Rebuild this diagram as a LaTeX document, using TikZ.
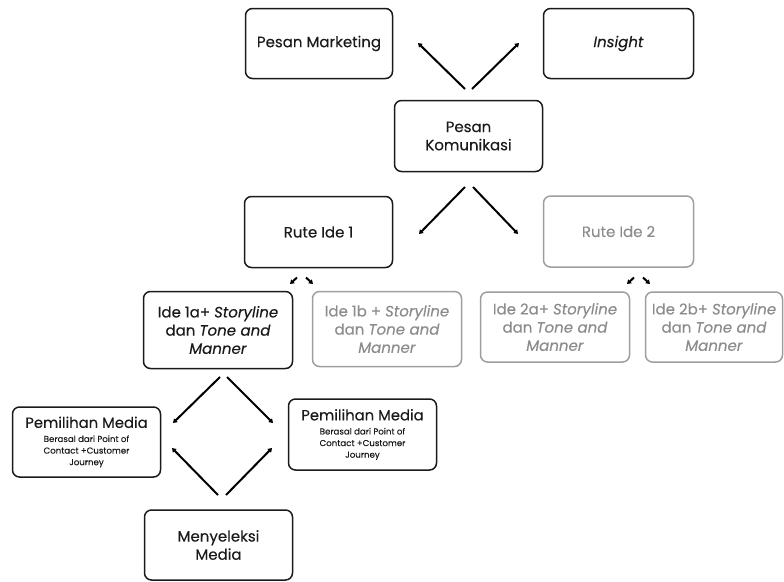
\documentclass[tikz,border=0pt]{standalone}
\usepackage{fontspec}
\setmainfont{Poppins}[FakeBold=0.2]
\usetikzlibrary{arrows.meta}
\definecolor{ink}{HTML}{1A1A1A}
\definecolor{soft}{HTML}{8C8C8C}
\definecolor{softline}{HTML}{9E9E9E}
\begin{document}
\begin{tikzpicture}[x=1pt,y=-1pt,
  box/.style={draw=ink, line width=1.5pt, rounded corners=7pt, align=center,
    inner sep=2pt, text=ink, font=\fontsize{15}{18.2}\selectfont},
  ghost/.style={box, draw=softline, text=soft},
  dims/.style 2 args={minimum width=#1, minimum height=#2},
  media/.style={font=\fontsize{8.6}{11.6}\selectfont},
  arr/.style={draw=black, line width=2pt, -{Triangle[length=4pt,width=5pt]}}]
\useasboundingbox (0,0) rectangle (784,581);

% boxes
\node[box, dims={147}{70}] (pm) at (319,43.5) {Pesan Marketing};
\node[box, dims={150}{70}] (ins) at (618.5,43.5) {\textit{Insight}};
\node[box, dims={148}{71}] (pk) at (468.5,136) {Pesan\\Komunikasi};
\node[box, dims={148}{71}] (r1) at (318.5,232) {Rute Ide 1};
\node[ghost, dims={150}{71}] (r2) at (618.5,231.5) {Rute Ide 2};
\node[box, dims={149}{77}] (i1a) at (218,330) {Ide 1a+ \textit{Storyline}\\dan \textit{Tone and}\\\textit{Manner}};
\node[ghost, dims={149}{75}] (i1b) at (387,329) {Ide 1b + \textit{Storyline}\\dan \textit{Tone and}\\\textit{Manner}};
\node[ghost, dims={149}{70}] (i2a) at (555,327) {Ide 2a+ \textit{Storyline}\\dan \textit{Tone and}\\\textit{Manner}};
\node[ghost, dims={137}{70}] (i2b) at (714,327) {Ide 2b+ \textit{Storyline}\\dan \textit{Tone and}\\\textit{Manner}};
\node[box, media, dims={148}{70}] (pm1) at (86.5,442) {{\fontsize{14.8}{16}\selectfont Pemilihan Media}\\[2.5pt]Berasal dari Point of\\Contact +Customer\\Journey};
\node[box, media, dims={148}{71}] (pm2) at (362.5,434.5) {{\fontsize{14.8}{16}\selectfont Pemilihan Media}\\[2.5pt]Berasal dari Point of\\Contact +Customer\\Journey};
\node[box, dims={148}{70}] (ms) at (218.5,545) {Menyeleksi\\Media};

% connector end points
\coordinate (a1s) at (465,89);  \coordinate (a1e) at (418,43);
\coordinate (a2s) at (472,89);  \coordinate (a2e) at (519,43);
\coordinate (b1s) at (465,187); \coordinate (b1e) at (419,234);
\coordinate (b2s) at (473,187); \coordinate (b2e) at (518,234);
\coordinate (c1s) at (297,277.5); \coordinate (c1e) at (290,284);
\coordinate (c2s) at (306,277.5); \coordinate (c2e) at (313,284);
\coordinate (d1s) at (634,277.5); \coordinate (d1e) at (627,284);
\coordinate (d2s) at (643,277.5); \coordinate (d2e) at (650,284);
\coordinate (e1s) at (220,377); \coordinate (e1e) at (173,423);
\coordinate (e2s) at (227,377); \coordinate (e2e) at (273,423);
\coordinate (f1s) at (218,495); \coordinate (f1e) at (172,448);
\coordinate (f2s) at (226,495); \coordinate (f2e) at (272,448);

% connectors
\draw[arr] (a1s) -- (a1e);
\draw[arr] (a2s) -- (a2e);
\draw[arr] (b1s) -- (b1e);
\draw[arr] (b2s) -- (b2e);
\draw[arr] (c1s) -- (c1e);
\draw[arr] (c2s) -- (c2e);
\draw[arr] (d1s) -- (d1e);
\draw[arr] (d2s) -- (d2e);
\draw[arr] (e1s) -- (e1e);
\draw[arr] (e2s) -- (e2e);
\draw[arr] (f1s) -- (f1e);
\draw[arr] (f2s) -- (f2e);
\end{tikzpicture}
\end{document}
